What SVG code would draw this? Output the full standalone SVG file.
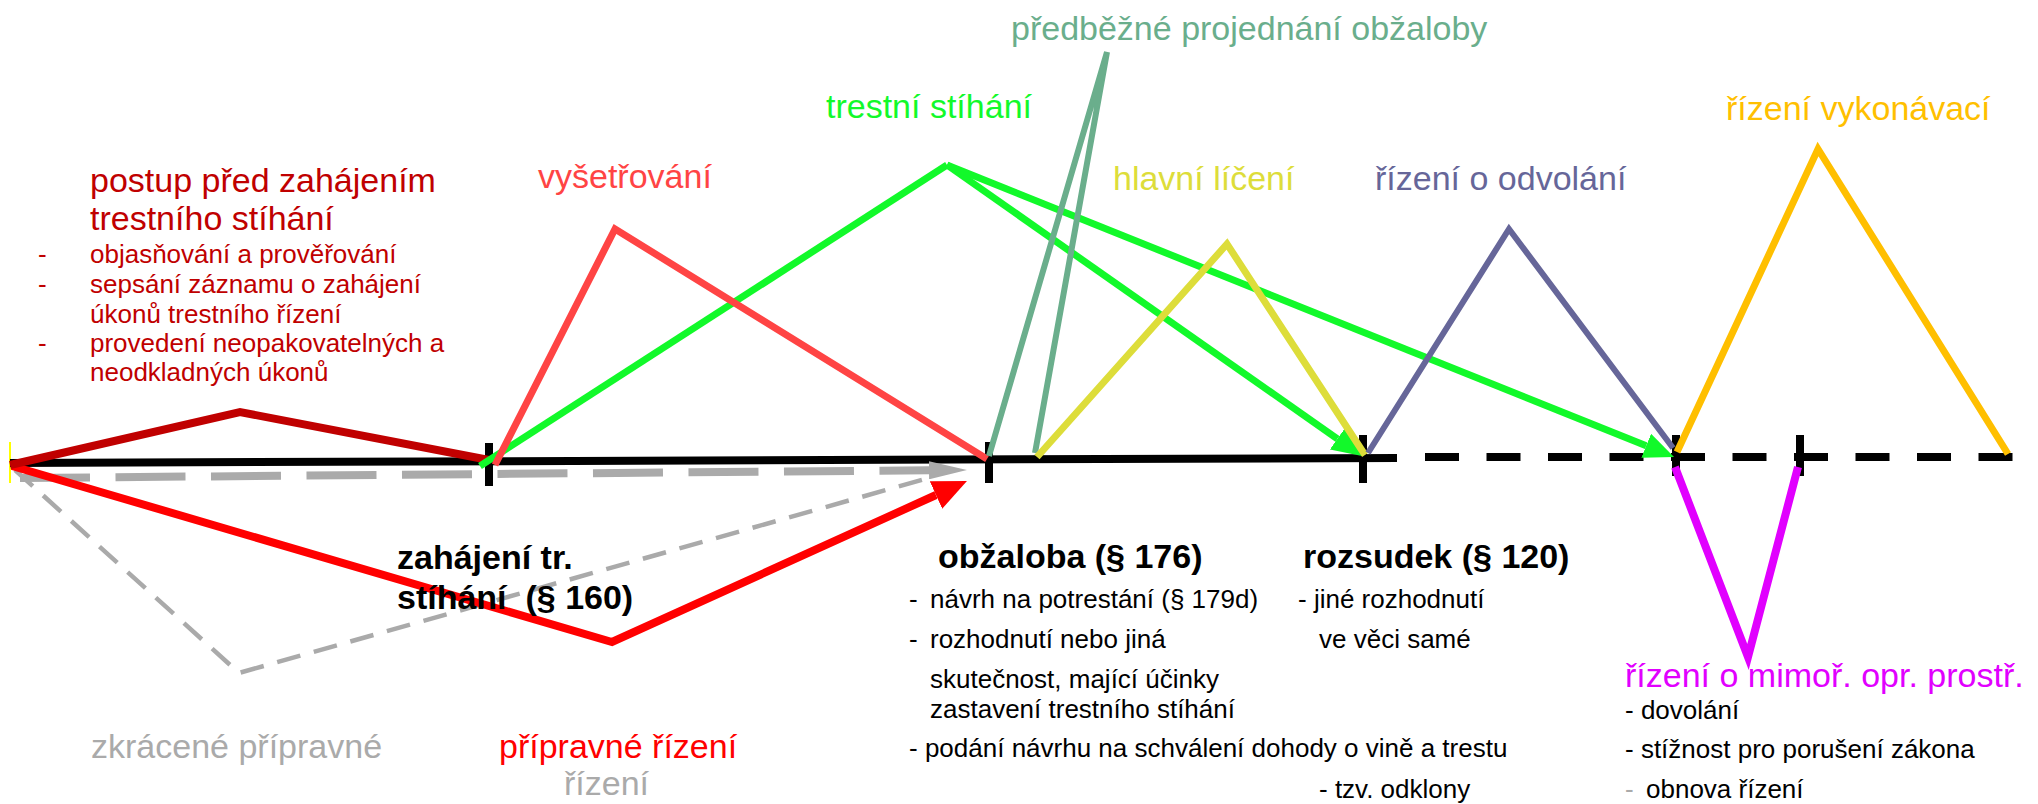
<svg xmlns="http://www.w3.org/2000/svg" width="2038" height="804" viewBox="0 0 2038 804">
<style>
text{font-family:"Liberation Sans",Arial,sans-serif;}
.big{font-size:34px;}
.sm{font-size:26px;}
.b{font-size:34px;font-weight:bold;fill:#000;}
.k{fill:#000;}
.ln{fill:none;stroke-linejoin:miter;stroke-linecap:butt;}
.tick{stroke:#000;stroke-width:8;}
</style>
<defs>
<marker id="ahGreen" markerUnits="userSpaceOnUse" markerWidth="30" markerHeight="26" refX="0" refY="13" orient="auto"><path d="M0,0 L30,13 L0,26 z" fill="#12f92a"/></marker>
<marker id="ahRed" markerUnits="userSpaceOnUse" markerWidth="34" markerHeight="30" refX="0" refY="15" orient="auto"><path d="M0,0 L34,15 L0,30 z" fill="#ff0000"/></marker>
<marker id="ahGray" markerUnits="userSpaceOnUse" markerWidth="38" markerHeight="18" refX="0" refY="9" orient="auto"><path d="M0,0 L38,9 L0,18 z" fill="#aaaaaa"/></marker>
</defs>
<rect width="2038" height="804" fill="#fff"/>

<g id="timeline">
<line x1="10" y1="442" x2="10" y2="483" stroke="#ffff00" stroke-width="2"/>
<line x1="10" y1="463" x2="1397" y2="458" stroke="#000" stroke-width="8"/>
<line x1="1425" y1="457" x2="2013" y2="457" stroke="#000" stroke-width="8" stroke-dasharray="34 27.5"/>
<line class="tick" x1="489" y1="443" x2="489" y2="486"/>
<line class="tick" x1="989" y1="442" x2="989" y2="483"/>
<line class="tick" x1="1363" y1="435" x2="1363" y2="483"/>
<line class="tick" x1="1676" y1="435" x2="1676" y2="476"/>
<line class="tick" x1="1800" y1="435" x2="1800" y2="476"/>
</g>

<g id="connectors">
<line x1="20" y1="478" x2="929" y2="470.3" stroke="#aaaaaa" stroke-width="8" stroke-dasharray="70 25.5" marker-end="url(#ahGray)"/>
<polyline class="ln" points="15,470 239,673 932,477" stroke="#aaaaaa" stroke-width="4.5" stroke-dasharray="24 14"/>
<polyline class="ln" points="12,466 612,642 936,495" stroke="#ff0000" stroke-width="8" marker-end="url(#ahRed)"/>
<polyline class="ln" points="10,465 240,412 489,460" stroke="#c00000" stroke-width="8"/>
<line x1="480" y1="466" x2="947" y2="165" stroke="#12f92a" stroke-width="7"/>
<polyline class="ln" points="495,465 615,229 987,459" stroke="#ff4444" stroke-width="7"/>
<line x1="947" y1="165" x2="1337.4" y2="438.8" stroke="#12f92a" stroke-width="7" marker-end="url(#ahGreen)"/>
<line x1="947" y1="165" x2="1646.2" y2="445.8" stroke="#12f92a" stroke-width="7" marker-end="url(#ahGreen)"/>
<polyline class="ln" points="989,456 1107,52 1035,453" stroke="#6aae8c" stroke-width="6"/>
<polyline class="ln" points="1037,457 1227,244 1365,455" stroke="#dddd3a" stroke-width="7"/>
<polyline class="ln" points="1368,453 1509,229 1673,448" stroke="#666699" stroke-width="6"/>
<polyline class="ln" points="1677,452 1818,149 2008,454" stroke="#ffbf00" stroke-width="7"/>
<polyline class="ln" points="1675,467 1748,657 1798,467" stroke="#e100ff" stroke-width="8"/>
</g>

<g id="pre-proceedings" fill="#c00000">
<text class="big" x="90" y="192">postup před zahájením</text>
<text class="big" x="90" y="230">trestního stíhání</text>
<text class="sm" x="38" y="263">-</text>
<text class="sm" x="90" y="263">objasňování a prověřování</text>
<text class="sm" x="38" y="293">-</text>
<text class="sm" x="90" y="293">sepsání záznamu o zahájení</text>
<text class="sm" x="90" y="323">úkonů trestního řízení</text>
<text class="sm" x="38" y="352">-</text>
<text class="sm" x="90" y="352">provedení neopakovatelných a</text>
<text class="sm" x="90" y="381">neodkladných úkonů</text>
</g>

<g id="vysetrovani"><text class="big" x="538" y="188" fill="#ff4444">vyšetřování</text></g>
<g id="trestni-stihani"><text class="big" x="826" y="118" fill="#12f92a">trestní stíhání</text></g>
<g id="predbezne"><text class="big" x="1011" y="40" fill="#6aae8c">předběžné projednání obžaloby</text></g>
<g id="hlavni-liceni"><text class="big" x="1113" y="190" fill="#dddd3a">hlavní líčení</text></g>
<g id="odvolani"><text class="big" x="1375" y="190" fill="#666699">řízení o odvolání</text></g>
<g id="vykonavaci"><text class="big" x="1726" y="120" fill="#ffbf00">řízení vykonávací</text></g>

<g id="zahajeni">
<text class="b" x="397" y="569">zahájení tr.</text>
<text class="b" x="397" y="609" xml:space="preserve">stíhání  (§ 160)</text>
</g>

<g id="obzaloba" class="k">
<text class="b" x="938" y="568">obžaloba (§ 176)</text>
<text class="sm" x="909" y="608">-</text>
<text class="sm" x="930" y="608">návrh na potrestání (§ 179d)</text>
<text class="sm" x="909" y="648">-</text>
<text class="sm" x="930" y="648">rozhodnutí nebo jiná</text>
<text class="sm" x="930" y="688">skutečnost, mající účinky</text>
<text class="sm" x="930" y="718">zastavení trestního stíhání</text>
<text class="sm" x="909" y="757">- podání návrhu na schválení dohody o vině a trestu</text>
<text class="sm" x="1319" y="798">- tzv. odklony</text>
</g>

<g id="rozsudek" class="k">
<text class="b" x="1303" y="568">rozsudek (§ 120)</text>
<text class="sm" x="1298" y="608">- jiné rozhodnutí</text>
<text class="sm" x="1319" y="648">ve věci samé</text>
</g>

<g id="mimoradne">
<text class="big" x="1625" y="687" fill="#e100ff">řízení o mimoř. opr. prostř.</text>
<text class="sm k" x="1625" y="719">- dovolání</text>
<text class="sm k" x="1625" y="758">- stížnost pro porušení zákona</text>
<text class="sm" x="1625" y="798" fill="#aaaaaa">-</text>
<text class="sm k" x="1646" y="798">obnova řízení</text>
</g>

<g id="zkracene"><text class="big" x="91" y="758" fill="#aaaaaa">zkrácené přípravné</text>
<text class="big" x="564" y="795" fill="#aaaaaa">řízení</text></g>
<g id="pripravne"><text class="big" x="499" y="758" fill="#ff0000">přípravné řízení</text></g>
</svg>
